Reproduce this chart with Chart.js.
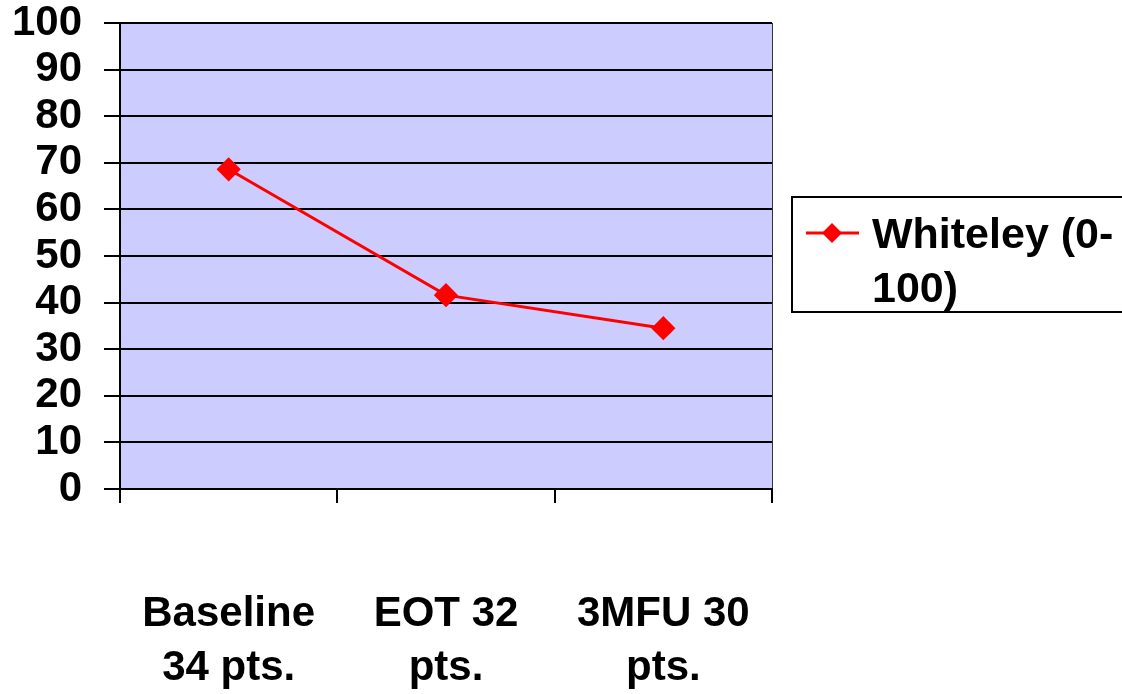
<!DOCTYPE html>
<html>
<head>
<meta charset="utf-8">
<script src="https://cdn.jsdelivr.net/npm/chart.js@4"></script>
<style>
  html, body { margin: 0; padding: 0; background: #ffffff; }
  #wrap { width: 1122px; height: 694px; position: relative; }
</style>
</head>
<body>
<div id="wrap"><canvas id="grafico"></canvas></div>
<script>
// datos del grafico
const categorias = [['Baseline', '34 pts.'], ['EOT 32', 'pts.'], ['3MFU 30', 'pts.']];
const whiteley = [68.6, 41.6, 34.5];
const serieNombre = 'Whiteley (0-100)';
const leyendaLineas = ['Whiteley (0-', '100)'];
const ticksY = [0, 10, 20, 30, 40, 50, 60, 70, 80, 90, 100];

const fuente = '"Liberation Sans", Arial, sans-serif';

// fondo lila del area de trazado
const fondo = {
    id: 'fondo',
    beforeDraw(chart) {
        const { ctx, chartArea: a } = chart;
        ctx.save();
        ctx.fillStyle = '#CCCCFF';
        ctx.fillRect(a.left, a.top, a.right - a.left, a.bottom - a.top);
        ctx.strokeStyle = '#333333';
        ctx.lineWidth = 1;
        ctx.beginPath();
        ctx.moveTo(a.right + 0.5, a.top);
        ctx.lineTo(a.right + 0.5, a.bottom);
        ctx.stroke();
        ctx.restore();
    }
};

// leyenda dibujada a mano (texto en dos lineas)
const leyenda = {
    id: 'leyenda',
    afterDraw(chart) {
        const ctx = chart.ctx;
        const ds = chart.data.datasets[0];
        ctx.save();
        ctx.strokeStyle = '#000000';
        ctx.lineWidth = 2;
        ctx.strokeRect(792, 197, 340, 115);
        // muestra de linea
        ctx.strokeStyle = ds.borderColor;
        ctx.lineWidth = 3;
        ctx.beginPath();
        ctx.moveTo(806, 233);
        ctx.lineTo(859, 233);
        ctx.stroke();
        ctx.fillStyle = ds.pointBackgroundColor;
        ctx.beginPath();
        ctx.moveTo(832, 223);
        ctx.lineTo(842, 233);
        ctx.lineTo(832, 243);
        ctx.lineTo(822, 233);
        ctx.closePath();
        ctx.fill();
        ctx.fillStyle = '#000000';
        ctx.font = 'bold 43px ' + fuente;
        ctx.textBaseline = 'alphabetic';
        ctx.textAlign = 'left';
        leyendaLineas.forEach((t, i) => ctx.fillText(t, 872, 248 + i * 54));
        ctx.restore();
    }
};

const ctx = document.getElementById('grafico');

new Chart(ctx, {
    type: 'line',
    data: {
        labels: categorias,
        datasets: [{
            label: serieNombre,
            data: whiteley,
            borderColor: '#FF0000',
            backgroundColor: '#FF0000',
            pointBackgroundColor: '#FF0000',
            pointBorderColor: '#FF0000',
            borderWidth: 3,
            pointStyle: 'rectRot',
            pointRadius: 10,
            pointHoverRadius: 10,
            tension: 0
        }]
    },
    options: {
        responsive: true,
        maintainAspectRatio: false,
        animation: false,
        layout: { padding: { top: 23, right: 350, bottom: 0, left: 10 } },
        plugins: {
            legend: { display: false },
            tooltip: { enabled: false }
        },
        scales: {
            x: {
                offset: true,
                afterFit(scale) {
                    scale.height = 205;
                    scale.paddingLeft = 0;
                    scale.paddingRight = 0;
                },
                grid: {
                    offset: true,
                    drawOnChartArea: false,
                    drawTicks: true,
                    tickLength: 14,
                    color: '#000000',
                    lineWidth: 2
                },
                border: { color: '#000000', width: 2 },
                ticks: {
                    color: '#000000',
                    padding: 84,
                    maxRotation: 0,
                    autoSkip: false,
                    font: { family: fuente, size: 42, weight: 'bold', lineHeight: 1.29 }
                }
            },
            y: {
                min: 0,
                max: 100,
                afterFit(scale) {
                    scale.width = 110;
                    scale.paddingTop = 0;
                    scale.paddingBottom = 0;
                },
                afterBuildTicks(scale) {
                    scale.ticks = ticksY.map(v => ({ value: v }));
                },
                grid: {
                    color: '#000000',
                    lineWidth: 2,
                    tickLength: 16
                },
                border: { color: '#000000', width: 2 },
                ticks: {
                    color: '#000000',
                    padding: 22,
                    autoSkip: false,
                    font: { family: fuente, size: 42, weight: 'bold' }
                }
            }
        }
    },
    plugins: [fondo, leyenda]
});
</script>
</body>
</html>
